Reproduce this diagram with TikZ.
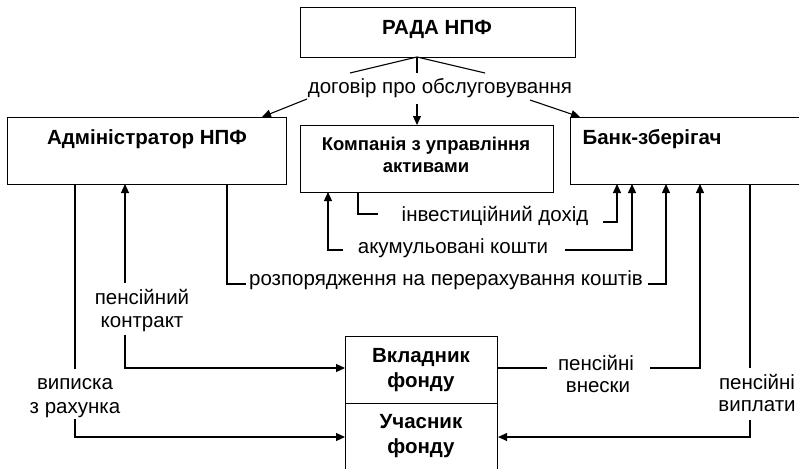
\documentclass[tikz,border=0pt]{standalone}
\usepackage{fontspec}
\setmainfont{Liberation Sans}
\usetikzlibrary{arrows.meta}
\begin{document}
\begin{tikzpicture}[x=1pt,y=-1pt,
  box/.style={draw,line width=1.1pt,inner sep=0pt,anchor=north west},
  bt/.style={inner sep=0pt,anchor=base,font=\bfseries\fontsize{20.5}{24}\selectfont},
  bts/.style={inner sep=0pt,anchor=base,font=\bfseries\fontsize{18.5}{22}\selectfont},
  lt/.style={inner sep=0pt,anchor=base,font=\fontsize{20.5}{24}\selectfont},
  ln/.style={line width=1.1pt},
  arr/.style={line width=1.1pt,-{Triangle[length=9pt,width=8pt]}}]
\useasboundingbox (0,0) rectangle (799,468);
% boxes
\node[box,minimum width=275pt,minimum height=50pt] (rada) at (300,7) {};
\node[bt] (radaT) at (437,35) {РАДА НПФ};
\node[box,minimum width=279pt,minimum height=67pt] (adm) at (7,117) {};
\node[bt] (admT) at (147,144) {Адміністратор НПФ};
\node[box,minimum width=253pt,minimum height=67pt] (kom) at (300,125) {};
\node[bts] (komT1) at (426,150) {Компанія з управління};
\node[bts] (komT2) at (426,172) {активами};
\node[box,minimum width=240pt,minimum height=67pt] (bank) at (570,117) {};
\node[bt] (bankT) at (652,144) {Банк-зберігач};
\node[box,minimum width=152pt,minimum height=67pt] (vk) at (345,336) {};
\node[bt] (vkT1) at (421,362) {Вкладник};
\node[bt] (vkT2) at (421,387) {фонду};
\node[box,minimum width=152pt,minimum height=80pt] (uch) at (345,403) {};
\node[bt] (uchT1) at (421,428) {Учасник};
\node[bt] (uchT2) at (421,453) {фонду};
% labels
\node[lt] (dog) at (440,93) {договір про обслуговування};
\node[lt] (inv) at (495,221) {інвестиційний дохід};
\node[lt] (aku) at (453,253) {акумульовані кошти};
\node[lt] (roz) at (446,285) {розпорядження на перерахування коштів};
\node[lt] (pk1) at (142,304) {пенсійний};
\node[lt] (pk2) at (142,327) {контракт};
\node[lt] (vyp1) at (75,389) {виписка};
\node[lt] (vyp2) at (75,413) {з рахунка};
\node[lt] (pvn1) at (596,370) {пенсійні};
\node[lt] (pvn2) at (598,392) {внески};
\node[lt] (pvy1) at (757,389) {пенсійні};
\node[lt] (pvy2) at (757,411) {виплати};
% coordinates
\coordinate (rf) at (417,57);
\coordinate (fl) at (350,73);
\coordinate (fm) at (417,73);
\coordinate (fr) at (485,73);
\coordinate (al) at (307,99);
\coordinate (ae) at (262,117);
\coordinate (ml) at (417,104);
\coordinate (me) at (417,125);
\coordinate (bl) at (530,100);
\coordinate (be) at (580,117);
% fan from the board
\draw[ln] (fl) -- (rf) -- (fr);
\draw[ln] (rf) -- (fm);
\draw[arr] (al) -- (ae);
\draw[arr] (ml) -- (me);
\draw[arr] (bl) -- (be);
% statement from account
\coordinate (v0) at (75,184);
\coordinate (v1) at (75,369);
\coordinate (v2) at (75,419);
\coordinate (v3) at (75,437);
\draw[ln] (v0) -- (v1);
\draw[arr] (v2) -- (v3) -- (v3 -| uch.west);
% pension contract
\coordinate (p0) at (125,283);
\coordinate (p1) at (125,184);
\coordinate (p2) at (125,335);
\coordinate (p3) at (125,368);
\draw[arr] (p0) -- (p1);
\draw[arr] (p2) -- (p3) -- (p3 -| vk.west);
% order to transfer
\coordinate (o0) at (227,184);
\coordinate (o1) at (227,284);
\coordinate (o2) at (246,284);
\coordinate (o3) at (648,284);
\coordinate (o4) at (666,284);
\coordinate (o5) at (666,184);
\draw[ln] (o0) -- (o1) -- (o2);
\draw[arr] (o3) -- (o4) -- (o5);
% investment income
\coordinate (i0) at (358,192);
\coordinate (i1) at (358,214);
\coordinate (i2) at (378,214);
\coordinate (i3) at (603,222);
\coordinate (i4) at (617,222);
\coordinate (i5) at (617,184);
\draw[ln] (i0) -- (i1) -- (i2);
\draw[arr] (i3) -- (i4) -- (i5);
% accumulated funds
\coordinate (a0) at (343,250);
\coordinate (a1) at (328,250);
\coordinate (a2) at (328,192);
\coordinate (a3) at (565,250);
\coordinate (a4) at (632,250);
\coordinate (a5) at (632,184);
\draw[arr] (a0) -- (a1) -- (a2);
\draw[arr] (a3) -- (a4) -- (a5);
% pension contributions
\coordinate (c1) at (547,368);
\coordinate (c2) at (650,368);
\coordinate (c3) at (700,368);
\coordinate (c4) at (700,184);
\draw[ln] (vk.east |- c1) -- (c1);
\draw[arr] (c2) -- (c3) -- (c4);
% pension payments
\coordinate (w0) at (750,184);
\coordinate (w1) at (750,368);
\coordinate (w2) at (750,420);
\coordinate (w3) at (750,437);
\draw[ln] (w0) -- (w1);
\draw[arr] (w2) -- (w3) -- (w3 -| uch.east);
\end{tikzpicture}
\end{document}
